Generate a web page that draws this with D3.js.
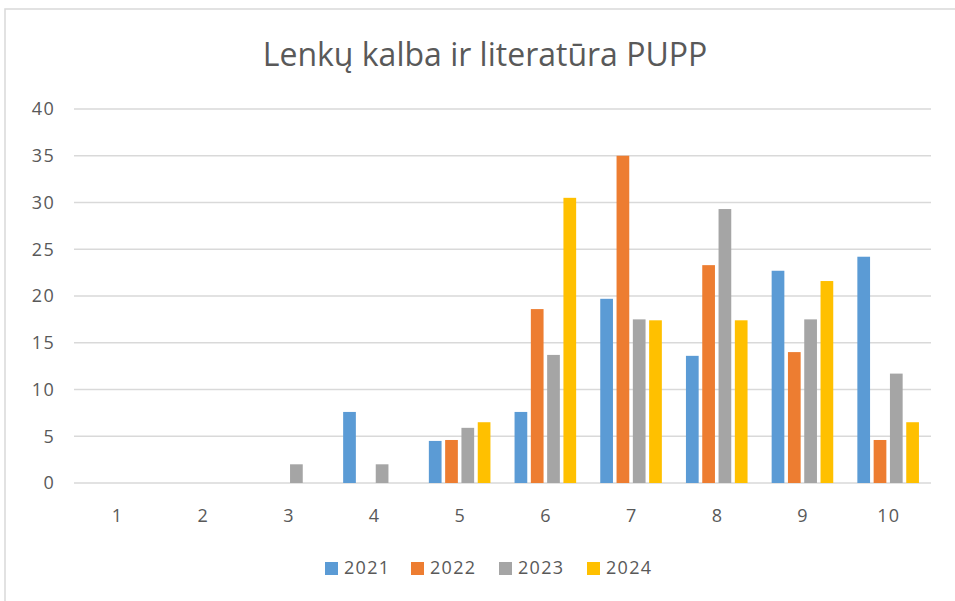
<!DOCTYPE html>
<html>
<head>
<meta charset="utf-8">
<script src="https://cdn.jsdelivr.net/npm/d3@7"></script>
<style>
  html, body { margin: 0; padding: 0; background: #fff; }
  svg { display: block; font-family: "Open Sans", "Noto Sans", sans-serif; }
  .lbl { font-size: 18px; letter-spacing: 1.3px; }
</style>
</head>
<body>
<svg id="chart" width="955" height="601"></svg>
<script>
// ---- data ----
const title = 'Lenkų kalba ir literatūra PUPP';
const categories = ['1', '2', '3', '4', '5', '6', '7', '8', '9', '10'];
const years = ['2021', '2022', '2023', '2024'];
const values2021 = [0, 0, 0, 7.6, 4.5, 7.6, 19.7, 13.6, 22.7, 24.2];
const values2022 = [0, 0, 0, 0, 4.6, 18.6, 35.0, 23.3, 14.0, 4.6];
const values2023 = [0, 0, 2.0, 2.0, 5.9, 13.7, 17.5, 29.3, 17.5, 11.7];
const values2024 = [0, 0, 0, 0, 6.5, 30.5, 17.4, 17.4, 21.6, 6.5];
const yTicks = [0, 5, 10, 15, 20, 25, 30, 35, 40];
const colors = ['#5B9BD5', '#ED7D31', '#A5A5A5', '#FFC000'];

const series = [values2021, values2022, values2023, values2024];

// ---- layout ----
const plot = { left: 74, right: 931, top: 109, bottom: 483 };
const textColor = '#595959';

const svg = d3.select('#chart');

// chart frame (offset, clipped by the window like the screenshot)
svg.append('rect')
  .attr('x', 5).attr('y', 9)
  .attr('width', 970).attr('height', 620)
  .attr('fill', '#fff')
  .attr('stroke', '#d9d9d9')
  .attr('stroke-width', 1.5);

const x = d3.scaleBand()
  .domain(categories)
  .range([plot.left, plot.right]);

const y = d3.scaleLinear()
  .domain([0, 40])
  .range([plot.bottom, plot.top]);

// bars inside a category: pitch ~ 15.4px, bar ~ 12px
const x1 = d3.scaleBand()
  .domain(years)
  .range([0, 61.6])
  .paddingInner(0.22)
  .paddingOuter(0);

// ---- gridlines ----
svg.append('g')
  .selectAll('line')
  .data(yTicks)
  .join('line')
    .attr('x1', plot.left).attr('x2', plot.right)
    .attr('y1', d => y(d)).attr('y2', d => y(d))
    .attr('stroke', '#d9d9d9')
    .attr('stroke-width', 1.5);

// ---- y tick labels ----
svg.append('g')
  .selectAll('text')
  .data(yTicks)
  .join('text')
    .attr('class', 'lbl')
    .attr('x', 55)
    .attr('y', d => y(d))
    .attr('dy', '0.36em')
    .attr('text-anchor', 'end')
    .attr('fill', textColor)
    .text(d => d);

// ---- bars ----
const groupOffset = (x.bandwidth() - 61.6) / 2;
const groups = svg.append('g')
  .selectAll('g')
  .data(series)
  .join('g')
    .attr('fill', (d, i) => colors[i]);

groups.each(function(vals, si) {
  d3.select(this).selectAll('rect')
    .data(vals.map((v, ci) => ({ cat: categories[ci], v })).filter(d => d.v > 0))
    .join('rect')
      .attr('x', d => x(d.cat) + groupOffset + x1(years[si]))
      .attr('width', x1.bandwidth())
      .attr('y', d => y(d.v))
      .attr('height', d => y(0) - y(d.v));
});

// ---- x labels ----
svg.append('g')
  .selectAll('text')
  .data(categories)
  .join('text')
    .attr('class', 'lbl')
    .attr('x', d => x(d) + x.bandwidth() / 2 + 0.7)
    .attr('y', 515.5)
    .attr('dy', '0.36em')
    .attr('text-anchor', 'middle')
    .attr('fill', textColor)
    .text(d => d);

// ---- title ----
const titleEl = svg.append('text')
  .attr('x', 485)
  .attr('y', 66)
  .attr('text-anchor', 'middle')
  .attr('fill', textColor)
  .style('font-size', '28px')
  .text(title);
// fit to the reference width (~445px)
const tw = titleEl.node().getComputedTextLength();
titleEl.style('font-size', (28 * 445 / tw).toFixed(1) + 'px');

// ---- legend ----
const legendX = [325, 411, 499, 587];
const legend = svg.append('g')
  .selectAll('g')
  .data(years)
  .join('g')
    .attr('transform', (d, i) => `translate(${legendX[i]},568)`);

legend.append('rect')
  .attr('x', 0).attr('y', -6)
  .attr('width', 13).attr('height', 13)
  .attr('fill', (d, i) => colors[i]);

legend.append('text')
  .attr('class', 'lbl')
  .attr('x', 19)
  .attr('y', 0)
  .attr('dy', '0.36em')
  .attr('fill', textColor)
  .text(d => d);
</script>
</body>
</html>
